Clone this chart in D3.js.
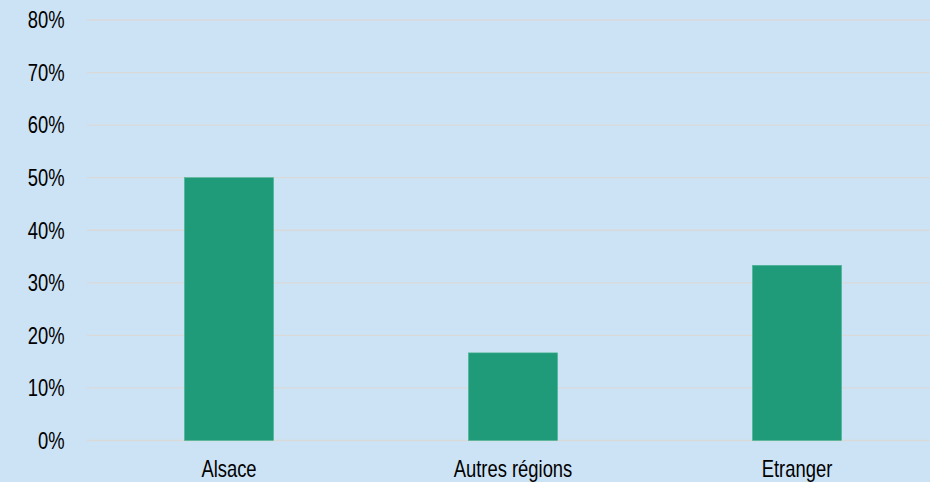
<!DOCTYPE html>
<html><head><meta charset="utf-8">
<script src="https://cdn.jsdelivr.net/npm/d3@7"></script>
<style>
html,body{margin:0;padding:0;background:#cce3f5;}
text{font-family:"Liberation Sans",Arial,sans-serif;}
</style></head>
<body>
<svg id="c" width="930" height="482"></svg>
<script>
const categories = ["Alsace", "Autres régions", "Etranger"];
const values = [50, 16.67, 33.33];
const yTicks = [0, 10, 20, 30, 40, 50, 60, 70, 80];

const W = 930, H = 482;
const SX = 0.8;
const svg = d3.select("#c");
svg.append("rect").attr("width", W).attr("height", H).attr("fill", "#cce3f5");

const x = d3.scaleBand().domain(categories).range([87, 939]).paddingInner(0.686).paddingOuter(0.343);
const y = d3.scaleLinear().domain([0, 80]).range([440.5, 20]);

// gridlines
svg.append("g").selectAll("line").data(yTicks).join("line")
  .attr("x1", 87).attr("x2", W)
  .attr("y1", d => y(d)).attr("y2", d => y(d))
  .attr("stroke", "#d9d9d9").attr("stroke-width", 1.3);

// y labels
svg.append("g").selectAll("text").data(yTicks).join("text")
  .attr("transform", d => `translate(64.5,${y(d)}) scale(${SX},1)`)
  .attr("dy", "0.36em")
  .attr("text-anchor", "end").attr("font-size", 23).attr("fill", "#000")
  .text(d => d + "%");

// bars
svg.append("g").selectAll("rect").data(values).join("rect")
  .attr("x", (d, i) => x(categories[i]))
  .attr("width", x.bandwidth())
  .attr("y", d => y(d))
  .attr("height", d => y(0) - y(d))
  .attr("fill", "#1f9b7a").attr("stroke", "#4fb597").attr("stroke-width", 0.6);

// x labels
svg.append("g").selectAll("text").data(categories).join("text")
  .attr("transform", d => `translate(${x(d) + x.bandwidth() / 2},477.3) scale(${SX},1)`)
  .attr("text-anchor", "middle").attr("font-size", 23).attr("fill", "#000")
  .text(d => d);
</script>
</body></html>
